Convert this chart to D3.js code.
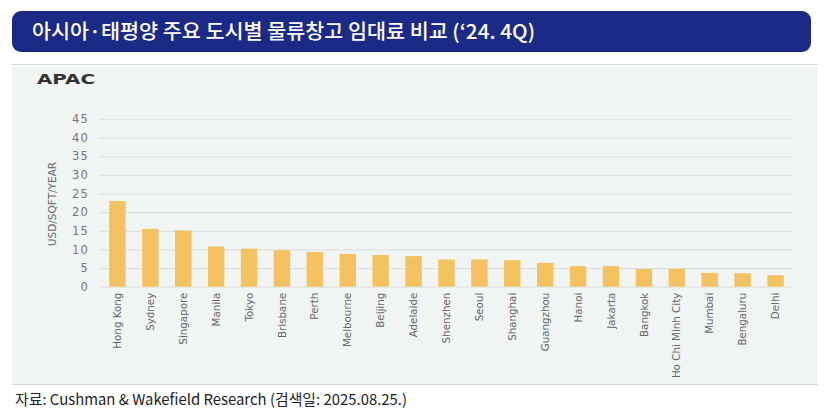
<!DOCTYPE html>
<html><head><meta charset="utf-8">
<script src="https://cdn.jsdelivr.net/npm/d3@7"></script>
<style>body{margin:0;background:#fff}svg{display:block}</style>
</head><body><svg id="c" width="839" height="420"></svg>
<script>
const titleText = "아시아·태평양 주요 도시별 물류창고 임대료 비교 (‘24. 4Q)";
const panelLabel = "APAC";
const yAxisTitle = "USD/SQFT/YEAR";
const sourceText = "자료: Cushman & Wakefield Research (검색일: 2025.08.25.)";
const cities = ["Hong Kong","Sydney","Singapore","Manila","Tokyo","Brisbane","Perth","Melbourne","Beijing","Adelaide","Shenzhen","Seoul","Shanghai","Guangzhou","Hanoi","Jakarta","Bangkok","Ho Chi Minh City","Mumbai","Bengaluru","Delhi"];
const rents = [23.0,15.5,15.1,10.8,10.2,9.8,9.3,8.8,8.5,8.2,7.3,7.3,7.1,6.4,5.5,5.5,4.8,4.8,3.7,3.6,3.1];
const yTicks = [0,5,10,15,20,25,30,35,40,45];

const svg = d3.select("#c");
// title bar
svg.append("rect").attr("x",12).attr("y",11).attr("width",799).attr("height",41).attr("rx",9).attr("fill","#1b2a86");
svg.append("text").attr("x",32).attr("y",39).attr("fill","#fff")
  .attr("font-family","Noto Sans CJK KR").attr("font-size",20).attr("font-weight",500)
  .attr("textLength",503).attr("lengthAdjust","spacingAndGlyphs").text(titleText);
// separator
svg.append("line").attr("x1",11).attr("x2",818).attr("y1",64.5).attr("y2",64.5).attr("stroke","#d6d9d9").attr("stroke-width",1.2);
// panel
svg.append("rect").attr("x",12).attr("y",67).attr("width",806).attr("height",317).attr("fill","#f1f5f4");
svg.append("line").attr("x1",12).attr("x2",818).attr("y1",384.5).attr("y2",384.5).attr("stroke","#d6d9d9").attr("stroke-width",1.2);
svg.append("text").attr("x",37).attr("y",83.5).attr("fill","#333").attr("font-family","DejaVu Sans")
  .attr("font-size",14).attr("font-weight","bold")
  .attr("textLength",58).attr("lengthAdjust","spacingAndGlyphs").text(panelLabel);

const x = d3.scaleBand().domain(cities).range([100,793]).paddingInner(0.5).paddingOuter(0.28);
const y = d3.scaleLinear().domain([0,45]).range([286.7,119]);

const g = svg.append("g");
const ya = g.append("g").attr("transform","translate(100,0)")
  .call(d3.axisLeft(y).tickValues(yTicks).tickSize(-693).tickPadding(11));
ya.select(".domain").remove();
ya.selectAll(".tick line").attr("stroke","#dde3e2").attr("stroke-width",1.2);
ya.selectAll(".tick text").attr("fill","#777").attr("font-family","DejaVu Sans").attr("font-size",11.5).attr("letter-spacing",1.2);

g.selectAll("rect.bar").data(rents).join("rect").attr("class","bar")
  .attr("x",(d,i)=>x(cities[i])).attr("width",x.bandwidth())
  .attr("y",d=>y(d)).attr("height",d=>y(0)-y(d)).attr("fill","#f4c35f");

const xa = g.append("g").attr("transform",`translate(0,${y(0)})`).call(d3.axisBottom(x).tickSize(0).tickPadding(0));
xa.select(".domain").remove();
xa.selectAll(".tick text").attr("transform","rotate(-90)").attr("text-anchor","end")
  .attr("x",-6).attr("y",0).attr("dy","0.35em")
  .attr("fill","#666").attr("font-family","DejaVu Sans").attr("font-size",10.3);

svg.append("text").attr("transform","translate(56,204) rotate(-90)").attr("text-anchor","middle")
  .attr("fill","#666").attr("font-family","DejaVu Sans").attr("font-size",10.5).text(yAxisTitle);

svg.append("text").attr("x",15).attr("y",405).attr("fill","#222")
  .attr("font-family","Noto Sans CJK KR").attr("font-size",15)
  .attr("textLength",392).attr("lengthAdjust","spacingAndGlyphs").text(sourceText);
</script></body></html>
